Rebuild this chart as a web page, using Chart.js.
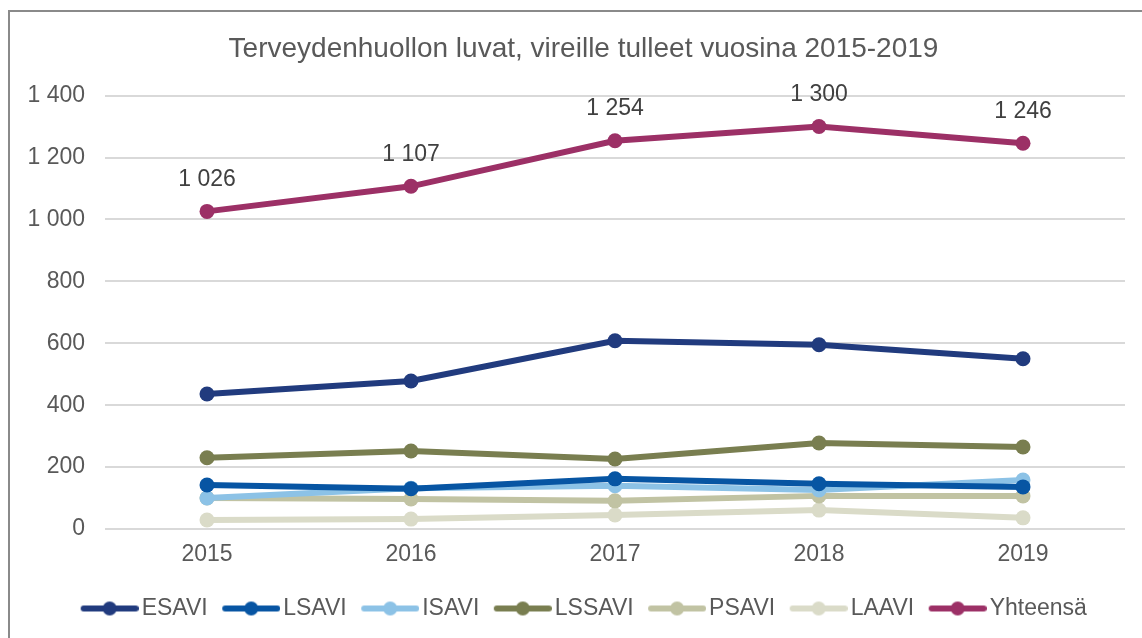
<!DOCTYPE html>
<html>
<head>
<meta charset="utf-8">
<script src="https://cdn.jsdelivr.net/npm/chart.js@4/dist/chart.umd.min.js"></script>
<style>
  html, body { margin: 0; padding: 0; background: #fff; overflow: hidden; width: 1142px; height: 638px; }
  #frame { position: absolute; left: 8px; top: 10px; width: 1200px; height: 700px;
           border-left: 2px solid #8a8a8a; border-top: 2px solid #8a8a8a; }
  #wrap { position: absolute; left: 0; top: 0; width: 1142px; height: 638px; }
</style>
</head>
<body>
<div id="frame"></div>
<div id="wrap"><canvas id="chart"></canvas></div>
<script>
var years = ['2015', '2016', '2017', '2018', '2019'];
var esavi = [436, 478, 608, 595, 550];
var lsavi = [142, 130, 162, 146, 136];
var isavi = [100, 132, 140, 126, 158];
var lssavi = [230, 252, 226, 278, 265];
var psavi = [100, 97, 91, 107, 107];
var laavi = [29, 32, 45, 61, 36];
var yhteensa = [1026, 1107, 1254, 1300, 1246];
var yTicks = [0, 200, 400, 600, 800, 1000, 1200, 1400];

var FONT = '"Liberation Sans", Arial, sans-serif';

function fmt(v) {
    return String(v).replace(/\B(?=(\d{3})+(?!\d))/g, ' ');
}

// line+dot picture for the legend, pushed to the right so the text sits close
function legendIcon(color) {
    var c = document.createElement('canvas');
    c.width = 67; c.height = 16;
    var g = c.getContext('2d');
    g.strokeStyle = color;
    g.lineWidth = 6;
    g.lineCap = 'round';
    g.beginPath(); g.moveTo(12, 8); g.lineTo(64, 8); g.stroke();
    g.fillStyle = color;
    g.beginPath(); g.arc(38, 8, 7, 0, Math.PI * 2); g.fill();
    return c;
}

function series(label, data, color) {
    return {
        label: label,
        data: data,
        borderColor: color,
        backgroundColor: color,
        borderWidth: 6,
        pointRadius: 7.5,
        pointHoverRadius: 7.5,
        pointBorderWidth: 0,
        pointStyle: 'circle',
        legendIcon: legendIcon(color)
    };
}

var datasets = [
    series('ESAVI', esavi, '#213b7e'),
    series('LSAVI', lsavi, '#0755a3'),
    series('ISAVI', isavi, '#8cc2e6'),
    series('LSSAVI', lssavi, '#797e50'),
    series('PSAVI', psavi, '#c1c3a3'),
    series('LAAVI', laavi, '#dadbc8'),
    series('Yhteensä', yhteensa, '#9c3066')
];

// values over the Yhteensä line
var totalLabels = {
    id: 'totalLabels',
    afterDatasetsDraw: function(chart) {
        var meta = chart.getDatasetMeta(6);
        var ctx = chart.ctx;
        ctx.save();
        ctx.font = '23px ' + FONT;
        ctx.fillStyle = '#404040';
        ctx.textAlign = 'center';
        ctx.textBaseline = 'middle';
        meta.data.forEach(function(pt, i) {
            ctx.fillText(fmt(yhteensa[i]), pt.x, pt.y - 32);
        });
        ctx.restore();
    }
};

// title and legend sit a bit right of the plot centre in the original
var shiftBoxes = {
    id: 'shiftBoxes',
    afterLayout: function(chart) {
        [chart.titleBlock, chart.legend].forEach(function(b) {
            if (b) { b.left += 16; b.right += 16; }
        });
    }
};

var ctx = document.getElementById('chart');
var myChart = new Chart(ctx, {
    type: 'line',
    data: { labels: years, datasets: datasets },
    plugins: [totalLabels, shiftBoxes],
    options: {
        responsive: true,
        maintainAspectRatio: false,
        animation: false,
        layout: { padding: { left: 10, right: 17, top: 12, bottom: 8 } },
        plugins: {
            title: {
                display: true,
                text: 'Terveydenhuollon luvat, vireille tulleet vuosina 2015-2019',
                color: '#595959',
                font: { family: FONT, size: 28, weight: 'normal' },
                padding: { top: 20, bottom: 30 }
            },
            legend: {
                position: 'bottom',
                labels: {
                    usePointStyle: true,
                    pointStyleWidth: 50,
                    color: '#595959',
                    font: { family: FONT, size: 23 },
                    padding: 14,
                    generateLabels: function(chart) {
                        return chart.data.datasets.map(function(ds, i) {
                            return {
                                text: ds.label,
                                pointStyle: ds.legendIcon,
                                fillStyle: ds.borderColor,
                                strokeStyle: ds.borderColor,
                                lineWidth: 0,
                                fontColor: '#595959',
                                datasetIndex: i
                            };
                        });
                    }
                }
            },
            tooltip: { enabled: false }
        },
        scales: {
            x: {
                offset: true,
                afterFit: function(axis) { axis.height = 54; },
                grid: { display: false, drawTicks: false },
                border: { display: false },
                ticks: {
                    color: '#595959',
                    font: { family: FONT, size: 23 },
                    padding: 12
                }
            },
            y: {
                min: 0,
                max: 1400,
                afterBuildTicks: function(axis) {
                    axis.ticks = yTicks.map(function(v) { return { value: v }; });
                },
                afterFit: function(axis) { axis.width = 95; },
                grid: { color: '#d9d9d9', lineWidth: 2, drawTicks: false },
                border: { display: false },
                ticks: {
                    color: '#595959',
                    font: { family: FONT, size: 23 },
                    padding: 20,
                    callback: function(v) { return fmt(v); }
                }
            }
        }
    }
});
</script>
</body>
</html>
